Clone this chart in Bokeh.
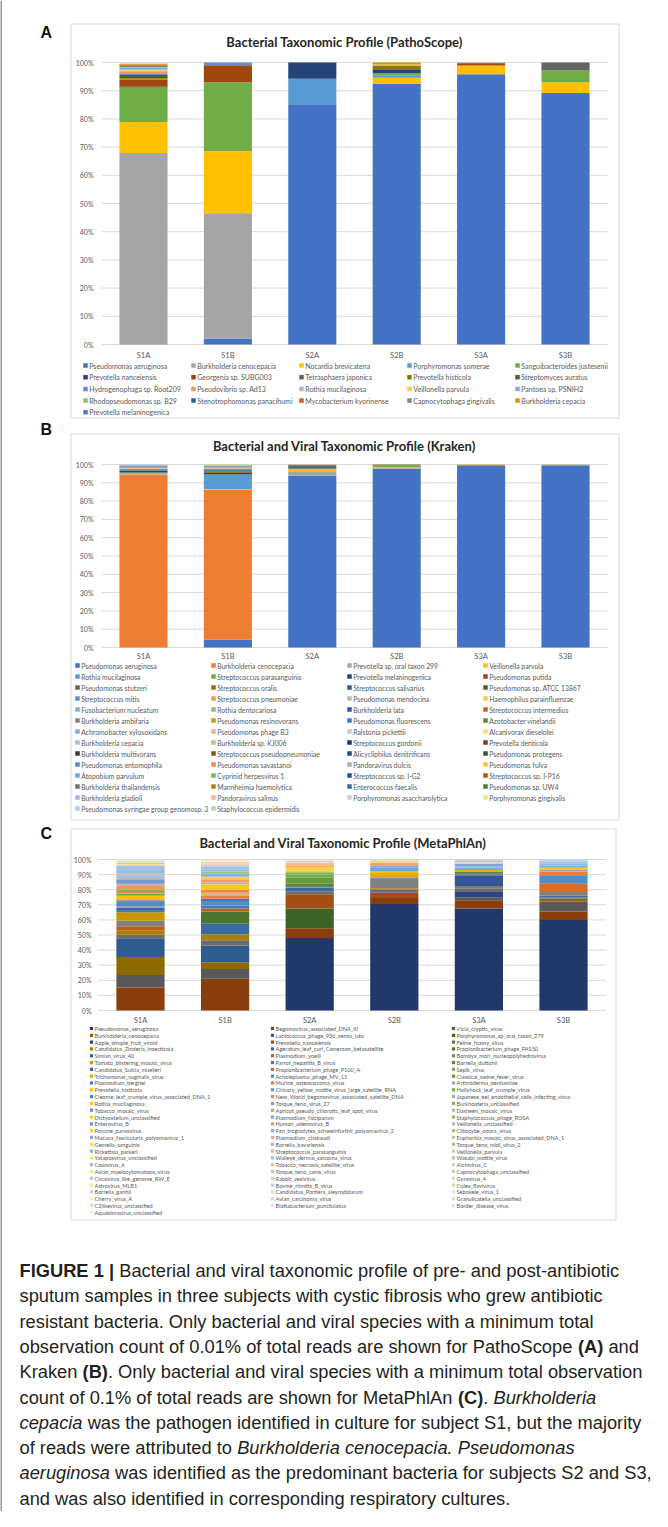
from bokeh.plotting import figure
from bokeh.models import Range1d, ColumnDataSource
from bokeh.embed import file_html
from bokeh.resources import INLINE
from bokeh.core.properties import value

# ---------------------------------------------------------------- data
SAMPLES = ["S1A", "S1B", "S2A", "S2B", "S3A", "S3B"]
PCT_TICKS = [0, 10, 20, 30, 40, 50, 60, 70, 80, 90, 100]
PCT_LABELS = ["0%", "10%", "20%", "30%", "40%", "50%", "60%", "70%", "80%", "90%", "100%"]

A_TITLE = "Bacterial Taxonomic Profile (PathoScope)"
A_SPECIES = [
    "Pseudomonas aeruginosa", "Burkholderia cenocepacia", "Nocardia brevicatena",
    "Porphyromonas somerae", "Sanguibacteroides justesenii", "Prevotella nanceiensis",
    "Georgenia sp. SUBG003", "Tetrasphaera japonica", "Prevotella histicola",
    "Streptomyces auratus", "Hydrogenophaga sp. Root209", "Pseudovibrio sp. Ad13",
    "Rothia mucilaginosa", "Veillonella parvula", "Pantoea sp. PSNIH2",
    "Rhodopseudomonas sp. B29", "Stenotrophomonas panacihumi", "Mycobacterium kyorinense",
    "Capnocytophaga gingivalis", "Burkholderia cepacia", "Prevotella melaninogenica",
]
A_COLORS = [
    "#4472C4", "#A5A5A5", "#FFC000", "#5B9BD5", "#70AD47", "#264478", "#9E480E",
    "#636363", "#997300", "#43682B", "#698ED0", "#F1975A", "#B7B7B7", "#FFCD33",
    "#7CAFDD", "#8CC168", "#335AA1", "#D26012", "#848484", "#CC9A00", "#4A7FC1",
]
#            S1A   S1B   S2A   S2B   S3A   S3B
A_VALUES = [
    [0.1, 2.0, 85.2, 92.5, 95.8, 89.2],
    [67.8, 44.5, 0.0, 0.0, 0.0, 0.0],
    [11.0, 22.0, 0.0, 2.1, 3.1, 3.8],
    [0.0, 0.0, 9.0, 0.7, 0.0, 0.0],
    [12.2, 24.5, 0.0, 0.9, 0.0, 4.2],
    [0.3, 0.0, 5.8, 1.4, 0.0, 0.0],
    [2.5, 6.0, 0.0, 0.0, 0.8, 0.0],
    [0.2, 0.0, 0.0, 0.0, 0.1, 2.8],
    [0.3, 0.0, 0.0, 1.3, 0.0, 0.0],
    [1.2, 0.0, 0.0, 0.0, 0.0, 0.0],
    [0.3, 1.0, 0.0, 0.0, 0.0, 0.0],
    [1.0, 0.0, 0.0, 0.0, 0.0, 0.0],
    [0.3, 0.0, 0.0, 0.2, 0.0, 0.0],
    [0.2, 0.0, 0.0, 0.2, 0.0, 0.0],
    [0.8, 0.0, 0.0, 0.0, 0.0, 0.0],
    [0.2, 0.0, 0.0, 0.0, 0.0, 0.0],
    [0.3, 0.0, 0.0, 0.0, 0.0, 0.0],
    [0.3, 0.0, 0.0, 0.0, 0.0, 0.0],
    [0.2, 0.0, 0.0, 0.0, 0.1, 0.0],
    [0.3, 0.0, 0.0, 0.7, 0.0, 0.0],
    [0.1, 0.0, 0.0, 0.0, 0.0, 0.0],
]

B_TITLE = "Bacterial and Viral Taxonomic Profile (Kraken)"
B_SPECIES = [
    "Pseudomonas aeruginosa", "Burkholderia cenocepacia", "Prevotella sp. oral taxon 299", "Veillonella parvula",
    "Rothia mucilaginosa", "Streptococcus parasanguinis", "Prevotella melaninogenica", "Pseudomonas putida",
    "Pseudomonas stutzeri", "Streptococcus oralis", "Streptococcus salivarius", "Pseudomonas sp. ATCC 13867",
    "Streptococcus mitis", "Streptococcus pneumoniae", "Pseudomonas mendocina", "Haemophilus parainfluenzae",
    "Fusobacterium nucleatum", "Rothia dentocariosa", "Burkholderia lata", "Streptococcus intermedius",
    "Burkholderia ambifaria", "Pseudomonas resinovorans", "Pseudomonas fluorescens", "Azotobacter vinelandii",
    "Achromobacter xylosoxidans", "Pseudomonas phage B3", "Ralstonia pickettii", "Alcanivorax dieselolei",
    "Burkholderia cepacia", "Burkholderia sp. KJ006", "Streptococcus gordonii", "Prevotella denticola",
    "Burkholderia multivorans", "Streptococcus pseudopneumoniae", "Alicycliphilus denitrificans", "Pseudomonas protegens",
    "Pseudomonas entomophila", "Pseudomonas savastanoi", "Pandoravirus dulcis", "Pseudomonas fulva",
    "Atopobium parvulum", "Cyprinid herpesvirus 1", "Streptococcus sp. I-G2", "Streptococcus sp. I-P16",
    "Burkholderia thailandensis", "Mannheimia haemolytica", "Enterococcus faecalis", "Pseudomonas sp. UW4",
    "Burkholderia gladioli", "Pandoravirus salinus", "Porphyromonas asaccharolytica", "Porphyromonas gingivalis",
    "Pseudomonas syringae group genomosp. 3", "Staphylococcus epidermidis",
]
B_COLORS = [
    "#4472C4", "#ED7D31", "#A5A5A5", "#FFC000", "#5B9BD5", "#70AD47", "#264478", "#9E480E",
    "#636363", "#997300", "#255E91", "#43682B", "#698ED0", "#F1975A", "#B7B7B7", "#FFCD33",
    "#7CAFDD", "#8CC168", "#335AA1", "#D26012", "#848484", "#CC9A00", "#3C7DC4", "#5A8A39",
    "#8FAADC", "#F4B183", "#C9C9C9", "#FFD966", "#9DC3E6", "#A9D18E", "#203864", "#843C0C",
    "#3A3A3A", "#7F6000", "#1F4E79", "#385723", "#5F82C9", "#EF8A4B", "#ADADAD", "#FFC61A",
    "#6FA6DA", "#7DB858", "#2C4E8E", "#B5530F", "#707070", "#B38600", "#2F6BA8", "#4E7A32",
    "#A4B7E3", "#F4B69B", "#D0D0D0", "#FFE07A", "#B0CDEB", "#B6D7A0",
]
#            S1A   S1B   S2A   S2B   S3A   S3B
B_VALUES = [
    [0.1, 4.3, 93.9, 97.8, 99.4, 99.6],
    [94.4, 82.0, 0.0, 0.0, 0.0, 0.0],
    [0.2, 0.1, 2.4, 0.1, 0.0, 0.0],
    [0.3, 0.2, 0.9, 0.6, 0.1, 0.1],
    [0.4, 7.6, 0.2, 0.1, 0.0, 0.0],
    [0.2, 0.4, 0.3, 0.7, 0.1, 0.1],
    [0.8, 0.9, 0.3, 0.1, 0.0, 0.0],
    [0.2, 0.6, 0.0, 0.1, 0.1, 0.0],
    [0.2, 0.3, 1.6, 0.1, 0.0, 0.0],
    [0.1, 0.2, 0.2, 0.3, 0.2, 0.1],
    [0.4, 0.5, 0.0, 0.0, 0.0, 0.0],
    [0.1, 0.3, 0.0, 0.1, 0.0, 0.0],
    [0.3, 0.3, 0.0, 0.0, 0.0, 0.0],
    [0.1, 0.2, 0.0, 0.0, 0.0, 0.0],
    [0.2, 0.2, 0.0, 0.0, 0.0, 0.0],
    [0.1, 0.1, 0.1, 0.0, 0.1, 0.0],
    [0.6, 0.2, 0.0, 0.0, 0.0, 0.0],
    [0.1, 0.1, 0.0, 0.0, 0.0, 0.0],
    [0.2, 0.3, 0.0, 0.0, 0.0, 0.0],
    [0.1, 0.1, 0.0, 0.0, 0.0, 0.0],
    [0.1, 0.1, 0.0, 0.0, 0.0, 0.0],
    [0.1, 0.1, 0.0, 0.0, 0.0, 0.0],
    [0.1, 0.2, 0.0, 0.0, 0.0, 0.0],
    [0.1, 0.1, 0.0, 0.0, 0.0, 0.0],
    [0.1, 0.1, 0.0, 0.0, 0.0, 0.0],
    [0.1, 0.1, 0.0, 0.0, 0.0, 0.0],
    [0.1, 0.1, 0.0, 0.0, 0.0, 0.0],
    [0.1, 0.1, 0.0, 0.0, 0.0, 0.0],
    [0.1, 0.1, 0.0, 0.0, 0.0, 0.0],
    [0.0, 0.1, 0.0, 0.0, 0.0, 0.0],
] + [[0.0] * 6 for _ in range(24)]

C_TITLE = "Bacterial and Viral Taxonomic Profile (MetaPhlAn)"
C_SPECIES = [
    "Pseudomonas_aeruginosa", "Begomovirus_associated_DNA_III", "Vicia_cryptic_virus",
    "Burkholderia_cenocepacia", "Lactococcus_phage_936_sensu_lato", "Porphyromonas_sp_oral_taxon_279",
    "Apple_dimple_fruit_viroid", "Prevotella_nanceiensis", "Feline_foamy_virus",
    "Candidatus_Zinderia_insecticola", "Ageratum_leaf_curl_Cameroon_betasatellite", "Propionibacterium_phage_PAS50",
    "Simian_virus_40", "Plasmodium_yoelii", "Bombyx_mori_nucleopolyhedrovirus",
    "Tomato_blistering_mosaic_virus", "Parrot_hepatitis_B_virus", "Borrelia_duttonii",
    "Candidatus_Sulcia_muelleri", "Propionibacterium_phage_P100_A", "Sepik_virus",
    "Trichomonas_vaginalis_virus", "Acholeplasma_phage_MV_L1", "Classical_swine_fever_virus",
    "Plasmodium_berghei", "Murine_osteosarcoma_virus", "Arthroderma_benhamiae",
    "Prevotella_histicola", "Chicory_yellow_mottle_virus_large_satellite_RNA", "Hollyhock_leaf_crumple_virus",
    "Cleome_leaf_crumple_virus_associated_DNA_1", "New_World_begomovirus_associated_satellite_DNA", "Japanese_eel_endothelial_cells_infecting_virus",
    "Rothia_mucilaginosa", "Torque_teno_virus_27", "Burkholderia_unclassified",
    "Tobacco_mosaic_virus", "Apricot_pseudo_chlorotic_leaf_spot_virus", "Dasheen_mosaic_virus",
    "Dictyostelium_unclassified", "Plasmodium_falciparum", "Staphylococcus_phage_ROSA",
    "Enterovirus_B", "Human_adenovirus_B", "Veillonella_unclassified",
    "Porcine_parvovirus", "Pan_troglodytes_schweinfurthii_polyomavirus_2", "Clitocybe_odora_virus",
    "Macaca_fascicularis_polyomavirus_1", "Plasmodium_chabaudi", "Euphorbia_mosaic_virus_associated_DNA_1",
    "Gemella_sanguinis", "Borrelia_bavariensis", "Torque_teno_midi_virus_2",
    "Rickettsia_parkeri", "Streptococcus_parasanguinis", "Veillonella_parvula",
    "Yatapoxvirus_unclassified", "Walleye_dermal_sarcoma_virus", "Wasabi_mottle_virus",
    "Cosavirus_A", "Tobacco_necrosis_satellite_virus", "Aichivirus_C",
    "Avian_myelocytomatosis_virus", "Torque_teno_canis_virus", "Capnocytophaga_unclassified",
    "Circovirus_like_genome_RW_E", "Rabbit_vesivirus", "Gyrovirus_4",
    "Astrovirus_MLB1", "Bovine_rhinitis_B_virus", "Culex_flavivirus",
    "Borrelia_garinii", "Candidatus_Portiera_aleyrodidarum", "Sebokele_virus_1",
    "Cherry_virus_A", "Avian_carcinoma_virus", "Granulicatella_unclassified",
    "C2likevirus_unclassified", "Blattabacterium_punctulatus", "Border_disease_virus",
    "Aquabimavirus_unclassified",
]
C_S1A = {
    "Begomovirus_associated_DNA_III": 15.3, "Vicia_cryptic_virus": 8.2, "Burkholderia_cenocepacia": 12.0,
    "Lactococcus_phage_936_sensu_lato": 12.3, "Feline_foamy_virus": 2.4, "Candidatus_Zinderia_insecticola": 3.0,
    "Plasmodium_yoelii": 2.6, "Bombyx_mori_nucleopolyhedrovirus": 3.7, "Tomato_blistering_mosaic_virus": 5.5,
    "Parrot_hepatitis_B_virus": 1.5, "Candidatus_Sulcia_muelleri": 1.5, "Sepik_virus": 1.0,
    "Acholeplasma_phage_MV_L1": 3.0, "Plasmodium_berghei": 1.0, "Prevotella_histicola": 3.0,
    "Hollyhock_leaf_crumple_virus": 1.5, "New_World_begomovirus_associated_satellite_DNA": 1.0,
    "Burkholderia_unclassified": 1.5, "Apricot_pseudo_chlorotic_leaf_spot_virus": 3.0, "Dasheen_mosaic_virus": 1.0,
    "Enterovirus_B": 3.0, "Veillonella_unclassified": 1.5, "Pan_troglodytes_schweinfurthii_polyomavirus_2": 1.0,
    "Euphorbia_mosaic_virus_associated_DNA_1": 1.5, "Borrelia_bavariensis": 1.5, "Rickettsia_parkeri": 1.0,
    "Walleye_dermal_sarcoma_virus": 2.5, "Tobacco_necrosis_satellite_virus": 0.5, "Avian_myelocytomatosis_virus": 0.5,
    "Torque_teno_canis_virus": 0.8, "Astrovirus_MLB1": 0.5, "Borrelia_garinii": 0.5,
    "Granulicatella_unclassified": 0.4, "Blattabacterium_punctulatus": 0.3, "Aquabimavirus_unclassified": 0.3,
}
C_S1B = {
    "Begomovirus_associated_DNA_III": 21.0, "Vicia_cryptic_virus": 6.5, "Burkholderia_cenocepacia": 4.5,
    "Lactococcus_phage_936_sensu_lato": 11.0, "Feline_foamy_virus": 3.5, "Candidatus_Zinderia_insecticola": 4.0,
    "Ageratum_leaf_curl_Cameroon_betasatellite": 7.0, "Propionibacterium_phage_PAS50": 8.0, "Plasmodium_yoelii": 2.0,
    "Parrot_hepatitis_B_virus": 2.0, "Acholeplasma_phage_MV_L1": 3.0, "Plasmodium_berghei": 1.5,
    "Murine_osteosarcoma_virus": 2.0, "Arthroderma_benhamiae": 1.0, "Prevotella_histicola": 1.0,
    "New_World_begomovirus_associated_satellite_DNA": 2.0, "Rothia_mucilaginosa": 3.5, "Dasheen_mosaic_virus": 1.5,
    "Human_adenovirus_B": 2.0, "Porcine_parvovirus": 1.5, "Pan_troglodytes_schweinfurthii_polyomavirus_2": 2.0,
    "Clitocybe_odora_virus": 1.5, "Borrelia_bavariensis": 1.5, "Walleye_dermal_sarcoma_virus": 2.0,
    "Aichivirus_C": 1.0, "Rabbit_vesivirus": 1.0, "Candidatus_Portiera_aleyrodidarum": 1.0,
    "Cherry_virus_A": 0.8, "Border_disease_virus": 0.5,
}
C_S2A = {
    "Pseudomonas_aeruginosa": 48.0, "Begomovirus_associated_DNA_III": 6.5, "Porphyromonas_sp_oral_taxon_279": 13.0,
    "Prevotella_nanceiensis": 9.5, "Feline_foamy_virus": 2.0, "Ageratum_leaf_curl_Cameroon_betasatellite": 2.5,
    "Bombyx_mori_nucleopolyhedrovirus": 1.0, "Borrelia_duttonii": 1.5, "Classical_swine_fever_virus": 4.0,
    "Hollyhock_leaf_crumple_virus": 2.0, "Burkholderia_unclassified": 1.5, "Dictyostelium_unclassified": 1.0,
    "Porcine_parvovirus": 2.5, "Plasmodium_chabaudi": 1.0, "Streptococcus_parasanguinis": 1.0,
    "Tobacco_necrosis_satellite_virus": 1.0, "Gyrovirus_4": 1.0, "Sebokele_virus_1": 0.5,
    "Blattabacterium_punctulatus": 0.5,
}
C_S2B = {
    "Pseudomonas_aeruginosa": 70.5, "Begomovirus_associated_DNA_III": 4.0, "Prevotella_nanceiensis": 3.5,
    "Feline_foamy_virus": 2.0, "Candidatus_Zinderia_insecticola": 1.0, "Bombyx_mori_nucleopolyhedrovirus": 6.5,
    "Candidatus_Sulcia_muelleri": 0.5, "Trichomonas_vaginalis_virus": 3.0, "Prevotella_histicola": 1.0,
    "Torque_teno_virus_27": 2.5, "Plasmodium_falciparum": 1.5, "Human_adenovirus_B": 1.0,
    "Plasmodium_chabaudi": 1.0, "Yatapoxvirus_unclassified": 1.0, "Aichivirus_C": 0.5,
    "Avian_carcinoma_virus": 0.5,
}
C_S3A = {
    "Pseudomonas_aeruginosa": 67.5, "Begomovirus_associated_DNA_III": 5.5, "Vicia_cryptic_virus": 2.0,
    "Apple_dimple_fruit_viroid": 4.0, "Feline_foamy_virus": 2.0, "Candidatus_Zinderia_insecticola": 1.0,
    "Simian_virus_40": 7.5, "Bombyx_mori_nucleopolyhedrovirus": 1.5, "Borrelia_duttonii": 1.0,
    "Trichomonas_vaginalis_virus": 1.0, "Plasmodium_falciparum": 1.5,
    "Pan_troglodytes_schweinfurthii_polyomavirus_2": 1.0, "Macaca_fascicularis_polyomavirus_1": 1.5,
    "Yatapoxvirus_unclassified": 1.0, "Circovirus_like_genome_RW_E": 1.0, "Borrelia_garinii": 1.0,
}
C_S3B = {
    "Pseudomonas_aeruginosa": 60.0, "Begomovirus_associated_DNA_III": 5.5, "Vicia_cryptic_virus": 6.5,
    "Burkholderia_cenocepacia": 2.0, "Feline_foamy_virus": 1.0, "Ageratum_leaf_curl_Cameroon_betasatellite": 1.0,
    "Bombyx_mori_nucleopolyhedrovirus": 2.5, "Propionibacterium_phage_P100_A": 5.5,
    "Acholeplasma_phage_MV_L1": 5.0, "Murine_osteosarcoma_virus": 3.0, "Arthroderma_benhamiae": 1.0,
    "Rothia_mucilaginosa": 1.5, "Plasmodium_falciparum": 1.5, "Borrelia_bavariensis": 1.5,
    "Walleye_dermal_sarcoma_virus": 1.0, "Torque_teno_canis_virus": 1.0, "Bovine_rhinitis_B_virus": 0.5,
}
C_BY_SAMPLE = [C_S1A, C_S1B, C_S2A, C_S2B, C_S3A, C_S3B]

CAPTION = [
    [("b", "FIGURE 1 | "), ("n", "Bacterial and viral taxonomic profile of pre- and post-antibiotic")],
    [("n", "sputum samples in three subjects with cystic fibrosis who grew antibiotic")],
    [("n", "resistant bacteria. Only bacterial and viral species with a minimum total")],
    [("n", "observation count of 0.01% of total reads are shown for PathoScope "), ("b", "(A)"), ("n", " and")],
    [("n", "Kraken "), ("b", "(B)"), ("n", ". Only bacterial and viral species with a minimum total observation")],
    [("n", "count of 0.1% of total reads are shown for MetaPhlAn "), ("b", "(C)"), ("n", ". "), ("i", "Burkholderia")],
    [("i", "cepacia"), ("n", " was the pathogen identified in culture for subject S1, but the majority")],
    [("n", "of reads were attributed to "), ("i", "Burkholderia cenocepacia. Pseudomonas")],
    [("i", "aeruginosa"), ("n", " was identified as the predominant bacteria for subjects S2 and S3,")],
    [("n", "and was also identified in corresponding respiratory cultures.")],
]

# ---------------------------------------------------------------- style helpers
def hex2rgb(h):
    h = h.lstrip("#")
    return [int(h[i:i + 2], 16) for i in (0, 2, 4)]

def mix(a, b, t):
    ra, rb = hex2rgb(a), hex2rgb(b)
    return "#%02x%02x%02x" % tuple(int(round(x + (y - x) * t)) for x, y in zip(ra, rb))

HUES = [  # dark, base, light
    ("#22386A", "#4472C4", "#D6DDF0"),
    ("#8A3E0C", "#ED7D31", "#F9DCCB"),
    ("#595959", "#A5A5A5", "#E6E6E6"),
    ("#8C6A00", "#FFC000", "#FCEBC4"),
    ("#2E5C8F", "#5B9BD5", "#D5E4F3"),
    ("#3F6228", "#70AD47", "#DDEBD3"),
]

def c_color(i, n):
    dark, base, light = HUES[i % 6]
    cyc = i // 6
    ncyc = (n - 1) // 6
    t = cyc / ncyc
    if t <= 0.3:
        return mix(dark, base, t / 0.3)
    return mix(base, light, (t - 0.3) / 0.7)

C_COLORS = [c_color(i, len(C_SPECIES)) for i in range(len(C_SPECIES))]
C_VALUES = [[d.get(s, 0.0) for d in C_BY_SAMPLE] for s in C_SPECIES]

# Helvetica/Arial advance widths (Liberation Sans is metric compatible)
_REG = dict(zip("abcdefghijklmnopqrstuvwxyz",
                [556, 556, 500, 556, 556, 278, 556, 556, 222, 222, 500, 222, 833, 556, 556, 556, 556, 333, 500, 278, 556, 500, 722, 500, 500, 500]))
_REG.update(zip("ABCDEFGHIJKLMNOPQRSTUVWXYZ",
                [667, 667, 722, 722, 667, 611, 778, 722, 278, 500, 667, 556, 833, 722, 778, 667, 778, 722, 667, 611, 722, 667, 944, 667, 667, 611]))
_REG.update({" ": 278, "|": 260, "-": 333, ".": 278, ",": 278, "%": 889, "(": 333, ")": 333})
_REG.update({d: 556 for d in "0123456789"})
_BOLD = dict(zip("abcdefghijklmnopqrstuvwxyz",
                 [556, 611, 556, 611, 556, 333, 611, 611, 278, 278, 556, 278, 889, 611, 611, 611, 611, 389, 556, 333, 611, 556, 778, 556, 556, 500]))
_BOLD.update(zip("ABCDEFGHIJKLMNOPQRSTUVWXYZ",
                 [722, 722, 722, 722, 667, 611, 778, 722, 278, 556, 722, 611, 833, 722, 778, 667, 778, 722, 667, 611, 722, 667, 944, 667, 667, 611]))
_BOLD.update({" ": 278, "|": 280, "-": 333, ".": 278, ",": 278, "%": 889, "(": 333, ")": 333})
_BOLD.update({d: 556 for d in "0123456789"})

def text_width(s, style, fs):
    tab = _BOLD if style == "b" else _REG
    return sum(tab.get(ch, 556) for ch in s) * fs / 1000.0

# ---------------------------------------------------------------- canvas
W, H = 652, 1511
OX, OY = 8, 8          # page margin: reference pixel -> canvas pixel
CHART_FONT = value("Lato")
CAP_FONT = value("Liberation Sans")

p = figure(width=W, height=H, x_range=Range1d(0, W), y_range=Range1d(H, 0),
           x_axis_type=None, y_axis_type=None, toolbar_location=None, title=None,
           output_backend="svg", min_border=0, outline_line_color=None,
           background_fill_color="white", border_fill_color="white")

PANELS = [
    dict(key="a", letter="A", title=A_TITLE, species=A_SPECIES, colors=A_COLORS, values=A_VALUES,
         box=(78, 31, 626, 425), letter_xy=(48, 40), title_y=49,
         c0=151, step=84.4, y100=70, y0=352, ylab_x=101, cat_y=363,
         lx=93, lstep=108, ly=373, lrow=11.7, ncol=5, lfs="7px", msize=4.5, tick_fs="7px"),
    dict(key="b", letter="B", title=B_TITLE, species=B_SPECIES, colors=B_COLORS, values=B_VALUES,
         box=(78, 441, 626, 827), letter_xy=(48, 437), title_y=453,
         c0=151, step=84.4, y100=472, y0=655, ylab_x=101, cat_y=664,
         lx=85, lstep=136, ly=673, lrow=11.0, ncol=4, lfs="6.8px", msize=4.5, tick_fs="7px"),
    dict(key="c", letter="C", title=C_TITLE, species=C_SPECIES, colors=C_COLORS, values=C_VALUES,
         box=(78, 836, 623, 1227), letter_xy=(48, 841), title_y=850,
         c0=148, step=84.6, y100=867, y0=1018, ylab_x=99, cat_y=1028,
         lx=99, lstep=181, ly=1036, lrow=6.81, ncol=3, lfs="5.6px", msize=3.2, tick_fs="7px"),
]

xr, yr = {}, {}
for L in PANELS:
    c0 = L["c0"] - OX
    y0 = L["y0"] - OY
    y100 = L["y100"] - OY
    xr["x" + L["key"]] = Range1d((0 - c0) / L["step"], (W - c0) / L["step"])
    k = 100.0 / (y0 - y100)
    yr["y" + L["key"]] = Range1d((y0 - H) * k, (y0 - 0) * k)
p.extra_x_ranges = xr
p.extra_y_ranges = yr

# outer frame line (left edge of the reference page)
p.segment(x0=[0.5], y0=[0], x1=[0.5], y1=[H], line_color="#333333", line_width=1)

for L in PANELS:
    xn, yn = "x" + L["key"], "y" + L["key"]
    n = len(SAMPLES)
    bx0, by0, bx1, by1 = L["box"]
    # panel frame
    p.quad(left=[bx0 - OX + 0.5], right=[bx1 - OX + 0.5], top=[by0 - OY + 0.5], bottom=[by1 - OY + 0.5],
           fill_color=None, line_color="#D9D9D9", line_width=1)
    # panel letter and title
    p.text(x=[L["letter_xy"][0] - OX], y=[L["letter_xy"][1] - OY], text=[L["letter"]],
           text_font=value("Liberation Sans"), text_font_style="bold", text_font_size="16px",
           text_color="#111111", text_baseline="middle", text_align="left")
    p.text(x=[(bx0 + bx1) / 2 - OX], y=[L["title_y"] - OY], text=[L["title"]],
           text_font=CHART_FONT, text_font_style="bold", text_font_size="13px",
           text_color="#262626", text_baseline="middle", text_align="center")
    # gridlines
    p.segment(x0=[-0.5] * len(PCT_TICKS), x1=[n - 0.5] * len(PCT_TICKS), y0=PCT_TICKS, y1=PCT_TICKS,
              line_color="#D9D9D9", line_width=1, x_range_name=xn, y_range_name=yn)
    # stacked bars
    data = {"idx": list(range(n))}
    stackers = []
    for j, vals in enumerate(L["values"]):
        data["s%d" % j] = vals
        stackers.append("s%d" % j)
    src = ColumnDataSource(data)
    p.vbar_stack(stackers, x="idx", width=0.57, fill_color=L["colors"], line_color=None,
                 source=src, x_range_name=xn, y_range_name=yn)
    # y tick labels
    p.text(x=[L["ylab_x"] - OX] * len(PCT_TICKS), y=PCT_TICKS, text=PCT_LABELS, y_range_name=yn,
           text_font=CHART_FONT, text_font_size=L["tick_fs"], text_color="#595959",
           text_align="right", text_baseline="middle")
    # category labels
    p.text(x=list(range(n)), y=[L["cat_y"] - OY] * n, text=SAMPLES, x_range_name=xn,
           text_font=CHART_FONT, text_font_size="7.5px", text_color="#595959",
           text_align="center", text_baseline="middle")
    # legend
    nc = L["ncol"]
    mx = [L["lx"] - OX + (i % nc) * L["lstep"] for i in range(len(L["species"]))]
    my = [L["ly"] - OY + (i // nc) * L["lrow"] for i in range(len(L["species"]))]
    p.scatter(x=mx, y=my, marker="square", size=L["msize"], fill_color=L["colors"], line_color=None)
    p.text(x=[v + L["msize"] / 2 + 1.5 for v in mx], y=my, text=L["species"],
           text_font=CHART_FONT, text_font_size=L["lfs"], text_color="#595959",
           text_align="left", text_baseline="middle")

# caption (runs laid out with Arial metrics; surrounding blanks become offsets)
CAP_FS = 18.3
CAP_X = 27
CAP_Y = 1278
CAP_DY = 25.3
runs = {"n": ([], [], []), "b": ([], [], []), "i": ([], [], [])}
for li, line in enumerate(CAPTION):
    x = CAP_X - OX
    y = CAP_Y + li * CAP_DY - OY
    for style, txt in line:
        lead = len(txt) - len(txt.lstrip(" "))
        x += text_width(" " * lead, style, CAP_FS)
        core = txt.strip(" ")
        runs[style][0].append(x)
        runs[style][1].append(y)
        runs[style][2].append(core)
        x += text_width(core, style, CAP_FS)
        trail = len(txt) - len(txt.rstrip(" "))
        x += text_width(" " * trail, style, CAP_FS)
for style, fstyle in (("n", "normal"), ("b", "bold"), ("i", "italic")):
    xs, ys, ts = runs[style]
    p.text(x=xs, y=ys, text=ts, text_font=CAP_FONT, text_font_style=fstyle,
           text_font_size="%.1fpx" % CAP_FS, text_color="#231F20",
           text_align="left", text_baseline="middle")

open("out.html", "w").write(file_html(p, INLINE))
